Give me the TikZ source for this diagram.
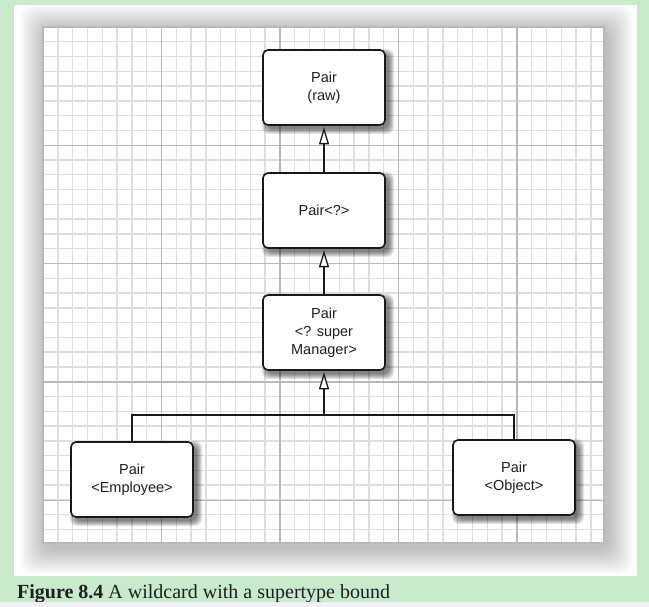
\documentclass[tikz,border=0pt]{standalone}
\usepackage{fontspec}
\setmainfont{Liberation Sans}
\newfontfamily\capfont{Liberation Serif}
\usetikzlibrary{arrows.meta}
\definecolor{bggreen}{RGB}{200,236,203}
\definecolor{minorgrid}{RGB}{222,222,222}
\definecolor{majorgrid}{RGB}{185,185,185}
\definecolor{inktext}{RGB}{30,30,30}
\tikzset{
  classbox/.style={draw=black!90, line width=1.6pt, rounded corners=5pt, fill=white,
    minimum width=122pt, minimum height=75pt, align=center, inner sep=0pt,
    font=\fontsize{14.5}{18}\selectfont, text=inktext},
  boxshade/.style={fill=black, fill opacity=0.1, rounded corners=7pt},
  conn/.style={line width=1.4pt, draw=black!90},
  arr/.style={conn, -{Triangle[fill=white, length=17pt, width=10pt, line width=1.3pt]}, shorten >=1.5pt},
  minorline/.style={draw=minorgrid, line width=1.4pt},
  majorline/.style={draw=majorgrid, line width=1.2pt}
}
\newcommand\myboxshade[2]{%
  \foreach \i in {0,...,5}{%
    \fill[boxshade] ({#1-61+4-\i},{#2-37.5+4-\i}) rectangle ({#1+61+4+\i},{#2+37.5+4+\i});
  }%
}
\begin{document}
\begin{tikzpicture}[x=1pt,y=-1pt]
\useasboundingbox (0,0) rectangle (649,607);
\fill[bggreen] (0,0) rectangle (649,602);
\fill[white] (14,5) rectangle (637,576);
% soft shadow round the grid
\begin{scope}
  \clip (14,5) rectangle (637,576);
  \foreach \i in {1,...,13}{
    \fill[black, opacity=0.019, rounded corners=12pt]
      ({46-2*\i},{31-2*\i}) rectangle ({607+2*\i},{548+2*\i});
  }
\end{scope}
% grid
\fill[white] (43,27) rectangle (604,543);
\begin{scope}
  \clip (43,27) rectangle (604,543);
  \foreach \k in {1,...,38}{\draw[minorline] ({43+\k*14.81},27) -- ++(0,516);}
  \foreach \k in {1,...,35}{\draw[minorline] (43,{27+\k*14.78}) -- ++(561,0);}
  \foreach \k in {1,...,4}{\draw[majorline] ({43+\k*118.5},27) -- ++(0,516);}
  \foreach \k in {1,...,4}{\draw[majorline] (43,{27+\k*118.3}) -- ++(561,0);}
\end{scope}
\draw[majorgrid, line width=1.2pt] (43,27) rectangle (604,543);
% box shadows
\myboxshade{324}{87.5}
\myboxshade{324}{210.5}
\myboxshade{324}{332.5}
\myboxshade{132}{479.5}
\myboxshade{514}{477.5}
% boxes
\node[classbox] (raw) at (324,87.5) {Pair\\(raw)};
\node[classbox] (wild) at (324,210.5) {Pair<?>};
\node[classbox] (sup) at (324,332.5) {Pair\\<? super\\Manager>};
\node[classbox] (emp) at (132,479.5) {Pair\\<Employee>};
\node[classbox] (obj) at (514,477.5) {Pair\\<Object>};
\coordinate (join) at (324,415);
% connectors
\draw[arr] (wild.north) -- (raw.south);
\draw[arr] (sup.north) -- (wild.south);
\draw[conn] (emp.north) |- (join) -| (obj.north);
\draw[arr] (join) -- (sup.south);
% caption
\node[anchor=base west, inner sep=0pt, text=inktext, font=\capfont\fontsize{20}{24}\selectfont] (caption) at (17,598)
  {\textbf{Figure 8.4} A wildcard with a supertype bound};
\fill[black!6] (0,602) rectangle (649,607);
\end{tikzpicture}
\end{document}
